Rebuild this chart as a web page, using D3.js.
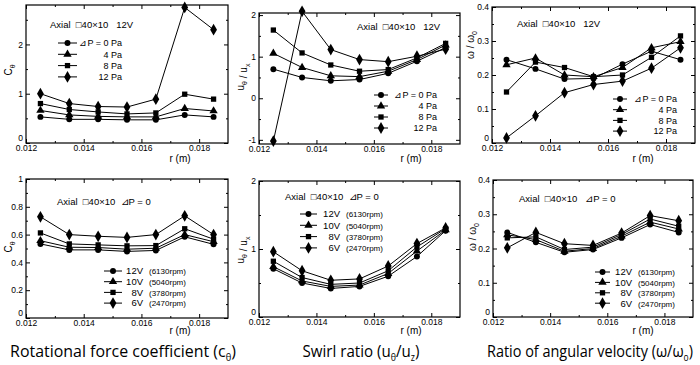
<!DOCTYPE html>
<html>
<head>
<script src="https://d3js.org/d3.v7.min.js"></script>
<style>
  body { margin: 0; background: #fff; }
  svg text { font-family: "Liberation Sans", Arial, sans-serif; fill: #000; }
</style>
</head>
<body>
<svg id="fig"></svg>
<script>
// radial positions (m)
const rValues = [0.0125, 0.0135, 0.0145, 0.0155, 0.0165, 0.0175, 0.0185];

const pressureLabels = ["⊿P = 0 Pa", "4 Pa", "8 Pa", "12 Pa"];
const voltageLabels = ["12V", "10V", "8V", "6V"];
const rpmLabels = ["(6130rpm)", "(5040rpm)", "(3780rpm)", "(2470rpm)"];

// top row, 12V, one row per ΔP = 0, 4, 8, 12 Pa
const cThetaByPressure = [
  [0.53, 0.48, 0.48, 0.47, 0.47, 0.57, 0.53],
  [0.66, 0.57, 0.54, 0.53, 0.53, 0.70, 0.65],
  [0.80, 0.68, 0.63, 0.59, 0.61, 0.99, 0.89],
  [1.00, 0.80, 0.74, 0.73, 0.89, 2.75, 2.30]
];
const swirlByPressure = [
  [0.70, 0.50, 0.42, 0.45, 0.60, 0.89, 1.22],
  [1.08, 0.74, 0.54, 0.52, 0.65, 0.93, 1.28],
  [1.64, 1.09, 0.80, 0.65, 0.69, 0.97, 1.32],
  [-1.03, 2.09, 1.17, 0.93, 0.88, 1.01, 1.18]
];
const omegaByPressure = [
  [0.245, 0.218, 0.188, 0.190, 0.232, 0.270, 0.245],
  [0.230, 0.250, 0.200, 0.195, 0.222, 0.280, 0.298],
  [0.150, 0.238, 0.222, 0.195, 0.200, 0.252, 0.315],
  [0.015, 0.080, 0.148, 0.172, 0.182, 0.220, 0.280]
];

// bottom row, ΔP = 0, one row per 12V, 10V, 8V, 6V
const cThetaByVoltage = [
  [0.533, 0.490, 0.490, 0.479, 0.486, 0.584, 0.530],
  [0.556, 0.509, 0.507, 0.495, 0.502, 0.600, 0.549],
  [0.612, 0.533, 0.526, 0.519, 0.521, 0.642, 0.567],
  [0.728, 0.600, 0.588, 0.580, 0.600, 0.735, 0.600]
];
const swirlByVoltage = [
  [0.71, 0.50, 0.42, 0.45, 0.60, 0.89, 1.27],
  [0.74, 0.53, 0.45, 0.47, 0.64, 0.97, 1.28],
  [0.82, 0.58, 0.48, 0.50, 0.68, 1.03, 1.30],
  [0.96, 0.68, 0.54, 0.56, 0.75, 1.08, 1.31]
];
const omegaByVoltage = [
  [0.247, 0.218, 0.189, 0.197, 0.231, 0.270, 0.247],
  [0.240, 0.226, 0.192, 0.200, 0.236, 0.277, 0.257],
  [0.231, 0.234, 0.197, 0.204, 0.241, 0.286, 0.265],
  [0.202, 0.247, 0.214, 0.209, 0.245, 0.296, 0.281]
];

const xMajor = [0.012, 0.014, 0.016, 0.018];
const xMinor = [0.013, 0.015, 0.017];

const width = 700, height = 365;
const svg = d3.select("#fig").attr("width", width).attr("height", height);

const symbolTypes = [d3.symbolCircle, d3.symbolTriangle, d3.symbolSquare, d3.symbolDiamond];
const symbolSizes = [28, 30, 28, 40];

const fmt = v => String(+v.toFixed(3));

function addAxis(g, axis, t) {
  return g.append("g").attr("transform", t).call(axis)
    .call(s => s.select(".domain").remove())
    .attr("font-size", 8.5)
    .attr("font-family", "Liberation Sans, Arial, sans-serif");
}

function yLabel(g, x, y, parts) {
  const t = g.append("text")
    .attr("transform", `translate(${x},${y}) rotate(-90)`)
    .attr("text-anchor", "middle")
    .attr("font-size", 10);
  parts.forEach(p => {
    if (p.sub) {
      t.append("tspan").attr("font-size", 7).attr("dy", 3).text(p.sub);
      t.append("tspan").attr("dy", -3).text("");
    } else {
      t.append("tspan").text(p.t);
    }
  });
}

function drawPanel(p) {
  const x = d3.scaleLinear().domain([0.012, 0.019]).range([p.left, p.right]);
  const y = d3.scaleLinear().domain(p.yDomain).range([p.bottom, p.top]);
  const g = svg.append("g");

  // inward ticks on all four sides
  addAxis(g, d3.axisBottom(x).tickValues(xMajor).tickSize(-4).tickPadding(2).tickFormat(fmt), `translate(0,${p.bottom})`);
  addAxis(g, d3.axisBottom(x).tickValues(xMinor).tickSize(-2).tickFormat(""), `translate(0,${p.bottom})`);
  addAxis(g, d3.axisTop(x).tickValues(xMajor).tickSize(-4).tickFormat(""), `translate(0,${p.top})`);
  addAxis(g, d3.axisTop(x).tickValues(xMinor).tickSize(-2).tickFormat(""), `translate(0,${p.top})`);
  const ya = addAxis(g, d3.axisLeft(y).tickValues(p.yMajor).tickSize(-4).tickPadding(3).tickFormat(fmt), `translate(${p.left},0)`);
  // the corner "0" sits a little above the x labels, as in the original
  ya.selectAll(".tick text").filter(d => y(d) > p.bottom - 3).attr("y", -5);
  addAxis(g, d3.axisLeft(y).tickValues(p.yMinor).tickSize(-2).tickFormat(""), `translate(${p.left},0)`);
  addAxis(g, d3.axisRight(y).tickValues(p.yMajor).tickSize(-4).tickFormat(""), `translate(${p.right},0)`);
  addAxis(g, d3.axisRight(y).tickValues(p.yMinor).tickSize(-2).tickFormat(""), `translate(${p.right},0)`);

  g.append("rect")
    .attr("x", p.left).attr("y", p.top)
    .attr("width", p.right - p.left).attr("height", p.bottom - p.top)
    .attr("fill", "none").attr("stroke", "#000").attr("stroke-width", 1.2);

  const line = d3.line().x((d, i) => x(rValues[i])).y(d => y(d));

  p.series.forEach((vals, k) => {
    g.append("path").attr("d", line(vals))
      .attr("fill", "none").attr("stroke", "#000").attr("stroke-width", 1);
    g.selectAll(null).data(vals).enter().append("path")
      .attr("transform", (d, i) => `translate(${x(rValues[i])},${y(d)})`)
      .attr("d", d3.symbol().type(symbolTypes[k]).size(symbolSizes[k]))
      .attr("fill", "#000");
  });

  // x label
  g.append("text").attr("x", p.xLabelX).attr("y", p.bottom + p.xLabelGap)
    .attr("text-anchor", "middle").attr("font-size", 10).text("r  (m)");

  yLabel(g, p.yLabelPos[0], p.yLabelPos[1], p.yLabel);

  // annotation
  g.append("text").attr("x", p.note[0]).attr("y", p.note[1])
    .attr("font-size", 9.5).attr("xml:space", "preserve")
    .style("white-space", "pre").text(p.noteText);

  // legend
  const L = p.legend;
  p.series.forEach((vals, k) => {
    const ly = L.y0 + k * L.dy;
    g.append("line").attr("x1", L.x1).attr("x2", L.x2).attr("y1", ly).attr("y2", ly)
      .attr("stroke", "#000").attr("stroke-width", 1);
    g.append("path").attr("transform", `translate(${(L.x1 + L.x2) / 2},${ly})`)
      .attr("d", d3.symbol().type(symbolTypes[k]).size(symbolSizes[k]))
      .attr("fill", "#000");
    if (L.kind === "p") {
      g.append("text").attr("x", L.textEnd).attr("y", ly + 3.3)
        .attr("text-anchor", "end").attr("font-size", 9).text(pressureLabels[k]);
    } else {
      g.append("text").attr("x", L.textEnd).attr("y", ly + 3.3)
        .attr("text-anchor", "end").attr("font-size", 9.5).text(voltageLabels[k]);
      g.append("text").attr("x", L.textEnd + 6).attr("y", ly + 3.3)
        .attr("font-size", 8).text(rpmLabels[k]);
    }
  });
}

const cLabel = [{t: "C"}, {sub: "θ"}];
const uLabel = [{t: "u"}, {sub: "θ"}, {t: " / u"}, {sub: "x"}];
const wLabel = [{t: "ω / ω"}, {sub: "0"}];

const panels = [
  {left: 26, right: 228, top: 5, bottom: 143, yDomain: [0, 2.8],
   yMajor: [0, 1, 2], yMinor: [0.5, 1.5, 2.5], series: cThetaByPressure,
   xLabelX: 180, xLabelGap: 19, yLabel: cLabel, yLabelPos: [12, 70],
   note: [50, 28], noteText: "Axial  □40×10   12V",
   legend: {kind: "p", x1: 58, x2: 77, textEnd: 122, y0: 43, dy: 11.3}},
  {left: 259, right: 460, top: 13, bottom: 144, yDomain: [-1.1, 2.05],
   yMajor: [-1, 0, 1, 2], yMinor: [-0.5, 0.5, 1.5], series: swirlByPressure,
   xLabelX: 411, xLabelGap: 18, yLabel: uLabel, yLabelPos: [244, 77],
   note: [357, 30], noteText: "Axial  □40×10   12V",
   legend: {kind: "p", x1: 374, x2: 388, textEnd: 437, y0: 95, dy: 11}},
  {left: 492, right: 695, top: 7, bottom: 143, yDomain: [0, 0.4],
   yMajor: [0, 0.1, 0.2, 0.3, 0.4], yMinor: [0.05, 0.15, 0.25, 0.35], series: omegaByPressure,
   xLabelX: 643, xLabelGap: 19, yLabel: wLabel, yLabelPos: [474, 45],
   note: [517, 27], noteText: "Axial  □40×10   12V",
   legend: {kind: "p", x1: 613, x2: 627, textEnd: 677, y0: 99, dy: 10.7}},
  {left: 26, right: 228, top: 179, bottom: 318, yDomain: [0, 1],
   yMajor: [0, 0.2, 0.4, 0.6, 0.8, 1], yMinor: [0.1, 0.3, 0.5, 0.7, 0.9], series: cThetaByVoltage,
   xLabelX: 180, xLabelGap: 16, yLabel: cLabel, yLabelPos: [12, 247],
   note: [57, 205], noteText: "Axial  □40×10  ⊿P = 0",
   legend: {kind: "v", x1: 104, x2: 122, textEnd: 143, y0: 271, dy: 10.7}},
  {left: 259, right: 460, top: 181, bottom: 317, yDomain: [0, 2],
   yMajor: [0, 1, 2], yMinor: [0.5, 1.5], series: swirlByVoltage,
   xLabelX: 411, xLabelGap: 17, yLabel: uLabel, yLabelPos: [244, 250],
   note: [285, 200], noteText: "Axial  □40×10  ⊿P = 0",
   legend: {kind: "v", x1: 300, x2: 317, textEnd: 340, y0: 214, dy: 11.3}},
  {left: 493, right: 693, top: 180, bottom: 317, yDomain: [0, 0.4],
   yMajor: [0, 0.1, 0.2, 0.3, 0.4], yMinor: [0.05, 0.15, 0.25, 0.35], series: omegaByVoltage,
   xLabelX: 643, xLabelGap: 17, yLabel: wLabel, yLabelPos: [476, 237],
   note: [519, 202], noteText: "Axial  □40×10   ⊿P = 0",
   legend: {kind: "v", x1: 595, x2: 610, textEnd: 632, y0: 272, dy: 10.4}}
];

panels.forEach(drawPanel);

// captions under each column, narrowed horizontally to the width they take in the figure
const captions = [
  {cx: 123, w: 226, parts: [{t: "Rotational force coefficient (c"}, {sub: "θ"}, {t: ")"}]},
  {cx: 361, w: 117, parts: [{t: "Swirl ratio (u"}, {sub: "θ"}, {t: "/u"}, {sub: "z"}, {t: ")"}]},
  {cx: 590, w: 206, parts: [{t: "Ratio of angular velocity (ω/ω"}, {sub: "o"}, {t: ")"}]}
];
captions.forEach(c => {
  const t = svg.append("text")
    .attr("text-anchor", "middle").attr("font-size", 17)
    .style("font-family", "'Open Sans', sans-serif");
  let low = false;
  c.parts.forEach(p => {
    if (p.sub) {
      t.append("tspan").attr("font-size", 10).attr("dy", low ? 0 : 4).text(p.sub);
      low = true;
    } else {
      t.append("tspan").attr("dy", low ? -4 : 0).text(p.t);
      low = false;
    }
  });
  const natural = t.node().getComputedTextLength();
  const sx = c.w / natural;
  t.attr("transform", `translate(${c.cx},357) scale(${sx},1)`);
});
</script>
</body>
</html>
